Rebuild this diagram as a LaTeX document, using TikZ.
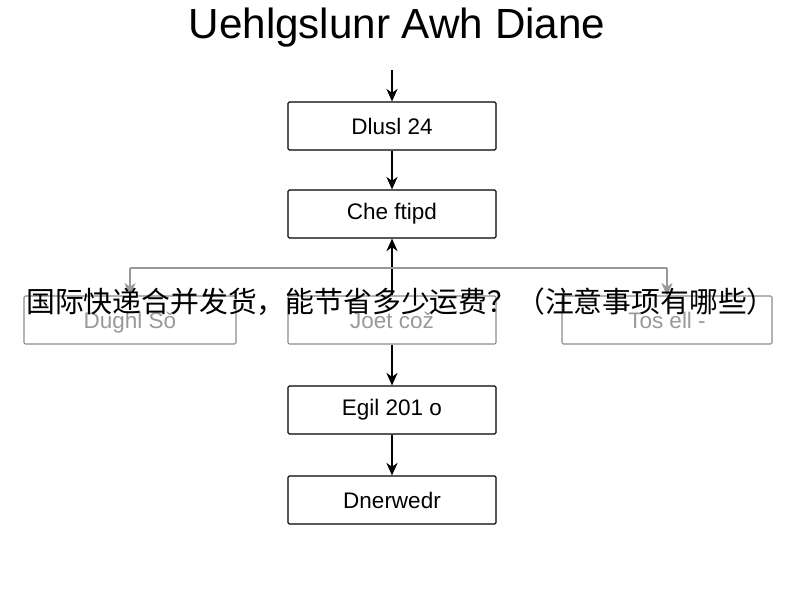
\documentclass[tikz,border=0pt]{standalone}
\usepackage{fontspec}
\setmainfont{Liberation Sans}
\newfontfamily\cjk{Noto Sans CJK SC}
\usetikzlibrary{positioning,arrows.meta}
\begin{document}
\begin{tikzpicture}[auto,x=0.025cm,y=-0.025cm,>={Stealth[length=9pt,width=8pt]},
  box/.style={rectangle,draw,thick,rounded corners=1pt,minimum width=5.2cm,minimum height=1.2cm,font=\fontsize{16}{18}\selectfont},
  side/.style={box,draw=black!45,text=black!40,text depth=-6pt}]
    \useasboundingbox (0,0) rectangle (800,600);
        \draw (397,28) node (t) {\fontsize{30}{34}\selectfont Uehlgslunr Awh Diane};
        \draw (392,126) node (a) [box] {Dlusl 24};
        \draw (392,214) node (b) [box] {Che ftipd};
        \draw (130,320) node (l) [side,minimum width=5.3cm] {Dughl S\v{o}};
        \draw (392,320) node (c) [side] {Joet co\v{z}};
        \draw (667,320) node (r) [side,minimum width=5.25cm] {Tos ell -};
        \draw (392,410) node (d) [box] {Egil 201 o};
        \draw (392,500) node (e) [box] {Dnerwedr};
        \coordinate (tl) at (130,268);
        \coordinate (tr) at (667,268);

        \draw [->,thick] (392,70) to (a.north);
        \draw [->,thick] (a) to (b);
        \draw [->,thick] (c) to (b);
        \draw [->,thick,black!40] (tl) to (l);
        \draw [->,thick,black!40] (tr) to (r);
        \draw [thick,black!40] (tl) to (tr);
        \draw [->,thick] (c) to (d);
        \draw [->,thick] (d) to (e);

        \draw (401,302) node (cn) {\cjk\fontsize{20.5}{24}\selectfont 国际快递合并发货，能节省多少运费？（注意事项有哪些）};
    \end{tikzpicture}
\end{document}
